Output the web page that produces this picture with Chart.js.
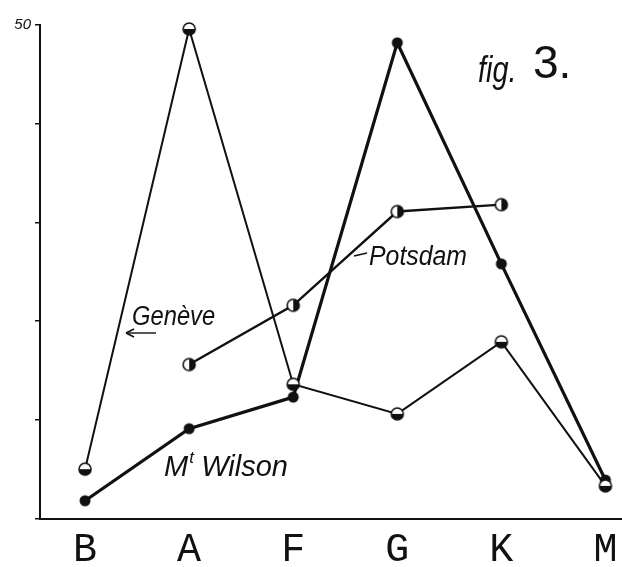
<!DOCTYPE html>
<html>
<head>
<meta charset="utf-8">
<script src="https://cdn.jsdelivr.net/npm/chart.js@4"></script>
<style>
html,body{margin:0;padding:0;background:#fff;}
#wrap{width:622px;height:567px;}
</style>
</head>
<body>
<div id="wrap"><canvas id="c" width="622" height="567"></canvas></div>
<script>
// Data
const categories = ['B','A','F','G','K','M'];
const geneve   = [5.0, 49.6, 13.6, 10.6, 17.9, 3.3];
const mtWilson = [1.8, 9.1, 12.3, 48.2, 25.8, 3.9];
const potsdam  = [null, 15.6, 21.6, 31.1, 31.8, null];
const yTicks = [0, 10, 20, 30, 40, 50];
const yLabelled = [50];

function marker(kind){
  const r = 6, s = 2*r+4;
  const c = document.createElement('canvas');
  c.width = s; c.height = s;
  const g = c.getContext('2d');
  const m = s/2;
  if(kind === 'full'){
    g.fillStyle = '#111';
    g.beginPath(); g.arc(m,m,r-0.5,0,Math.PI*2); g.fill();
    return c;
  }
  g.fillStyle = '#fff';
  g.beginPath(); g.arc(m,m,r,0,Math.PI*2); g.fill();
  g.fillStyle = '#111';
  g.beginPath();
  if(kind === 'bottom'){ g.arc(m,m,r,0,Math.PI); }
  else { g.arc(m,m,r,-Math.PI/2,Math.PI/2); }
  g.closePath(); g.fill();
  g.strokeStyle = '#111'; g.lineWidth = 1.6;
  g.beginPath(); g.arc(m,m,r,0,Math.PI*2); g.stroke();
  return c;
}
const mkHalfBottom = marker('bottom');
const mkHalfRight = marker('right');
const mkFull = marker('full');

const toXY = arr => arr.map((v,i)=>({x:i,y:v}));

const annot = {
  id:'annot',
  afterDatasetsDraw(chart){
    const ctx = chart.ctx;
    ctx.save();
    ctx.fillStyle = '#111';
    ctx.strokeStyle = '#111';
    ctx.textBaseline = 'alphabetic';
    const hand = 'italic 27px "Liberation Sans", sans-serif';
    // Genève
    ctx.font = hand;
    ctx.save(); ctx.translate(132,325); ctx.scale(0.88,1); ctx.fillText('Genève',0,0); ctx.restore();
    ctx.lineWidth = 1.4;
    ctx.beginPath(); ctx.moveTo(126,333); ctx.lineTo(156,333); ctx.stroke();
    ctx.beginPath(); ctx.moveTo(126,333); ctx.lineTo(134,329); ctx.moveTo(126,333); ctx.lineTo(134,337); ctx.stroke();
    // Potsdam
    ctx.save(); ctx.translate(369,265); ctx.scale(0.92,1); ctx.fillText('Potsdam',0,0); ctx.restore();
    ctx.beginPath(); ctx.moveTo(354,256); ctx.lineTo(367,253); ctx.stroke();
    // Mt Wilson
    ctx.save(); ctx.translate(164,476);
    ctx.font = 'italic 29px "Liberation Sans", sans-serif';
    ctx.fillText('M',0,0);
    const mw = ctx.measureText('M').width;
    ctx.font = 'italic 17px "Liberation Sans", sans-serif';
    ctx.fillText('t', mw+1, -13);
    ctx.font = 'italic 29px "Liberation Sans", sans-serif';
    ctx.fillText('Wilson', mw+13, 0);
    ctx.restore();
    // fig. 3.
    ctx.font = 'italic 32px "Liberation Sans", sans-serif';
    ctx.save(); ctx.translate(478,82); ctx.scale(0.9,1.15); ctx.fillText('fig.',0,0); ctx.restore();
    ctx.font = '46px "Liberation Sans", sans-serif';
    ctx.fillText('3.', 533, 78);
    ctx.restore();
  }
};

new Chart(document.getElementById('c'), {
  type:'line',
  data:{
    datasets:[
      {label:'Genève', data:toXY(geneve), borderColor:'#111', borderWidth:2,
       pointStyle:mkHalfBottom, pointRadius:6, tension:0, clip:false},
      {label:'Mt Wilson', data:toXY(mtWilson), borderColor:'#111', borderWidth:3.2,
       pointStyle:mkFull, pointRadius:6, tension:0, clip:false},
      {label:'Potsdam', data:toXY(potsdam), borderColor:'#111', borderWidth:2.4,
       pointStyle:mkHalfRight, pointRadius:6, tension:0, spanGaps:false, clip:false}
    ]
  },
  options:{
    responsive:false,
    animation:false,
    layout:{autoPadding:false, padding:{top:25,right:1,left:0,bottom:0}},
    plugins:{legend:{display:false}, tooltip:{enabled:false}},
    scales:{
      x:{
        type:'linear', min:-0.433, max:5.15,
        afterBuildTicks: s => { s.ticks = categories.map((_,i)=>({value:i})); },
        afterFit: s => { s.height = 48.5; s.paddingLeft = 0; s.paddingRight = 0; },
        grid:{display:false},
        border:{display:true, color:'#111', width:2},
        ticks:{
          callback: v => categories[v],
          color:'#111', padding:0, maxRotation:0, autoSkip:false,
          font:{family:'"Liberation Mono", monospace', size:40}
        }
      },
      y:{
        min:0, max:50,
        afterBuildTicks: s => { s.ticks = yTicks.map(v=>({value:v})); },
        afterFit: s => { s.width = 40; },
        grid:{drawOnChartArea:false, drawTicks:true, tickLength:5, color:'#111', lineWidth:1.5},
        border:{display:true, color:'#111', width:2},
        ticks:{
          callback: v => yLabelled.includes(v) ? String(v) : '',
          color:'#111', padding:4,
          font:{family:'"Liberation Sans", sans-serif', size:15, style:'italic'}
        }
      }
    }
  },
  plugins:[annot]
});
</script>
</body>
</html>
